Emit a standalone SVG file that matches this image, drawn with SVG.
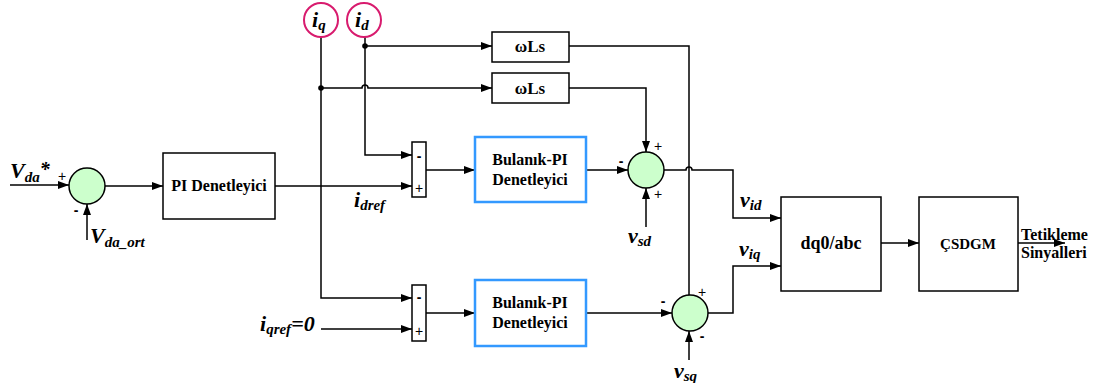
<svg xmlns="http://www.w3.org/2000/svg" width="1098" height="383" viewBox="0 0 1098 383">
<style>
.ln{fill:none;stroke:#000;stroke-width:1.5}
.box{fill:#fff;stroke:#000;stroke-width:1.5}
.fz{fill:#fff;stroke:#3399ff;stroke-width:2.5}
.sum{fill:#ccffcc;stroke:#000;stroke-width:1.5}
.meas{fill:#fff;stroke:#d81b6e;stroke-width:2}
.t{font-family:'Liberation Serif','Times New Roman','DejaVu Serif',serif;font-weight:bold;fill:#000}
.c{text-anchor:middle}
.lbl{font-family:'Liberation Serif','Times New Roman','DejaVu Serif',serif;font-weight:bold;font-style:italic;font-size:22px;fill:#000}
.sg{font-family:'Liberation Sans',Arial,sans-serif;font-size:14px;fill:#000;text-anchor:middle}
.mn{font-family:'Liberation Sans',Arial,sans-serif;font-size:14px;font-weight:bold;fill:#000;text-anchor:middle}
</style>
<defs>
<marker id="ar" markerUnits="userSpaceOnUse" markerWidth="11" markerHeight="8" refX="11" refY="4" orient="auto">
<path d="M0,0 L11,4 L0,8 z" fill="#000"/>
</marker>
</defs>

<g id="connectors">
<path class="ln" d="M10,185 H69" marker-end="url(#ar)"/>
<path class="ln" d="M87,240 V204" marker-end="url(#ar)"/>
<path class="ln" d="M105,186 H163" marker-end="url(#ar)"/>
<path class="ln" d="M275,186 H412" marker-end="url(#ar)"/>
<path class="ln" d="M365,37 V155 H412" marker-end="url(#ar)"/>
<path class="ln" d="M365,46 H492" marker-end="url(#ar)"/>
<path class="ln" d="M321,37 V298 H412" marker-end="url(#ar)"/>
<path class="ln" d="M321,88 H362 A3,3 0 0 1 368,88 H492" marker-end="url(#ar)"/>
<path class="ln" d="M426,170 H475" marker-end="url(#ar)"/>
<path class="ln" d="M586,170 H628" marker-end="url(#ar)"/>
<path class="ln" d="M569,88 H646 V152" marker-end="url(#ar)"/>
<path class="ln" d="M646,227 V188" marker-end="url(#ar)"/>
<path class="ln" d="M664,170 H686 A3,3 0 0 1 692,170 H733 V218 H781" marker-end="url(#ar)"/>
<path class="ln" d="M569,46 H689 V295"/>
<path class="ln" d="M426,313 H475" marker-end="url(#ar)"/>
<path class="ln" d="M321,329 H412" marker-end="url(#ar)"/>
<path class="ln" d="M586,313 H672" marker-end="url(#ar)"/>
<path class="ln" d="M689,360 V331" marker-end="url(#ar)"/>
<path class="ln" d="M708,313 H733 V266 H781" marker-end="url(#ar)"/>
<path class="ln" d="M881,243 H919" marker-end="url(#ar)"/>
<path class="ln" d="M1018,243 H1065" marker-end="url(#ar)"/>
<circle cx="365" cy="46" r="2.8" fill="#000"/>
<circle cx="321" cy="88" r="2.8" fill="#000"/>
</g>

<g id="iq">
<circle class="meas" cx="321" cy="20" r="17"/>
<text class="lbl" x="312" y="27">i<tspan font-size="15" dy="3">q</tspan></text>
</g>
<g id="id">
<circle class="meas" cx="364" cy="20" r="17"/>
<text class="lbl" x="355" y="27">i<tspan font-size="15" dy="3">d</tspan></text>
</g>

<g id="sum1">
<circle class="sum" cx="87" cy="186" r="18"/>
<text class="sg" x="62" y="181">+</text>
<text class="mn" x="76" y="215">-</text>
</g>

<g id="pi">
<rect class="box" x="163" y="153" width="112" height="66"/>
<text class="t c" x="219" y="191" font-size="16">PI Denetleyici</text>
</g>

<g id="wls1">
<rect class="box" x="492" y="32" width="77" height="30"/>
<text class="t c" x="530" y="52" font-size="17">ωLs</text>
</g>
<g id="wls2">
<rect class="box" x="492" y="73" width="77" height="30"/>
<text class="t c" x="530" y="94" font-size="17">ωLs</text>
</g>

<g id="cmp1">
<rect class="box" x="412" y="142" width="14" height="55"/>
<text class="mn" x="419" y="161">-</text>
<text class="sg" x="419" y="193">+</text>
</g>
<g id="cmp2">
<rect class="box" x="412" y="285" width="14" height="56"/>
<text class="mn" x="419" y="302">-</text>
<text class="sg" x="419" y="336">+</text>
</g>

<g id="fuzzy1">
<rect class="fz" x="475" y="137" width="111" height="65"/>
<text class="t c" x="530" y="165" font-size="16">Bulanık-PI</text>
<text class="t c" x="530" y="185" font-size="16">Denetleyici</text>
</g>
<g id="fuzzy2">
<rect class="fz" x="475" y="280" width="111" height="66"/>
<text class="t c" x="530" y="308" font-size="16">Bulanık-PI</text>
<text class="t c" x="530" y="328" font-size="16">Denetleyici</text>
</g>

<g id="sum2">
<circle class="sum" cx="646" cy="170" r="18"/>
<text class="mn" x="621" y="166">-</text>
<text class="sg" x="658" y="151">+</text>
<text class="sg" x="658" y="199">+</text>
</g>
<g id="sum3">
<circle class="sum" cx="690" cy="313" r="18"/>
<text class="mn" x="663" y="306">-</text>
<text class="sg" x="702" y="297">+</text>
<text class="mn" x="702" y="341">-</text>
</g>

<g id="dq0abc">
<rect class="box" x="781" y="197" width="100" height="94"/>
<text class="t c" x="831" y="249" font-size="18">dq0/abc</text>
</g>
<g id="csdgm">
<rect class="box" x="919" y="197" width="99" height="94"/>
<text class="t c" x="968" y="249" font-size="15">ÇSDGM</text>
</g>

<g id="labels">
<text class="lbl" x="10" y="178">V<tspan font-size="15" dy="4">da</tspan><tspan font-size="20" dy="-6">*</tspan></text>
<text class="lbl" x="90" y="243">V<tspan font-size="15" dy="4">da_ort</tspan></text>
<text class="lbl" x="354" y="207">i<tspan font-size="15" dy="3">dref</tspan></text>
<text class="lbl" x="260" y="331">i<tspan font-size="15" dy="3">qref</tspan><tspan dy="-3">=0</tspan></text>
<text class="lbl" x="628" y="243">v<tspan font-size="15" dy="3">sd</tspan></text>
<text class="lbl" x="674" y="378">v<tspan font-size="15" dy="3">sq</tspan></text>
<text class="lbl" x="740" y="207">v<tspan font-size="15" dy="3">id</tspan></text>
<text class="lbl" x="739" y="256">v<tspan font-size="15" dy="3">iq</tspan></text>
<text class="t" x="1021" y="240" font-size="16">Tetikleme</text>
<text class="t" x="1021" y="258" font-size="16">Sinyalleri</text>
</g>
</svg>
